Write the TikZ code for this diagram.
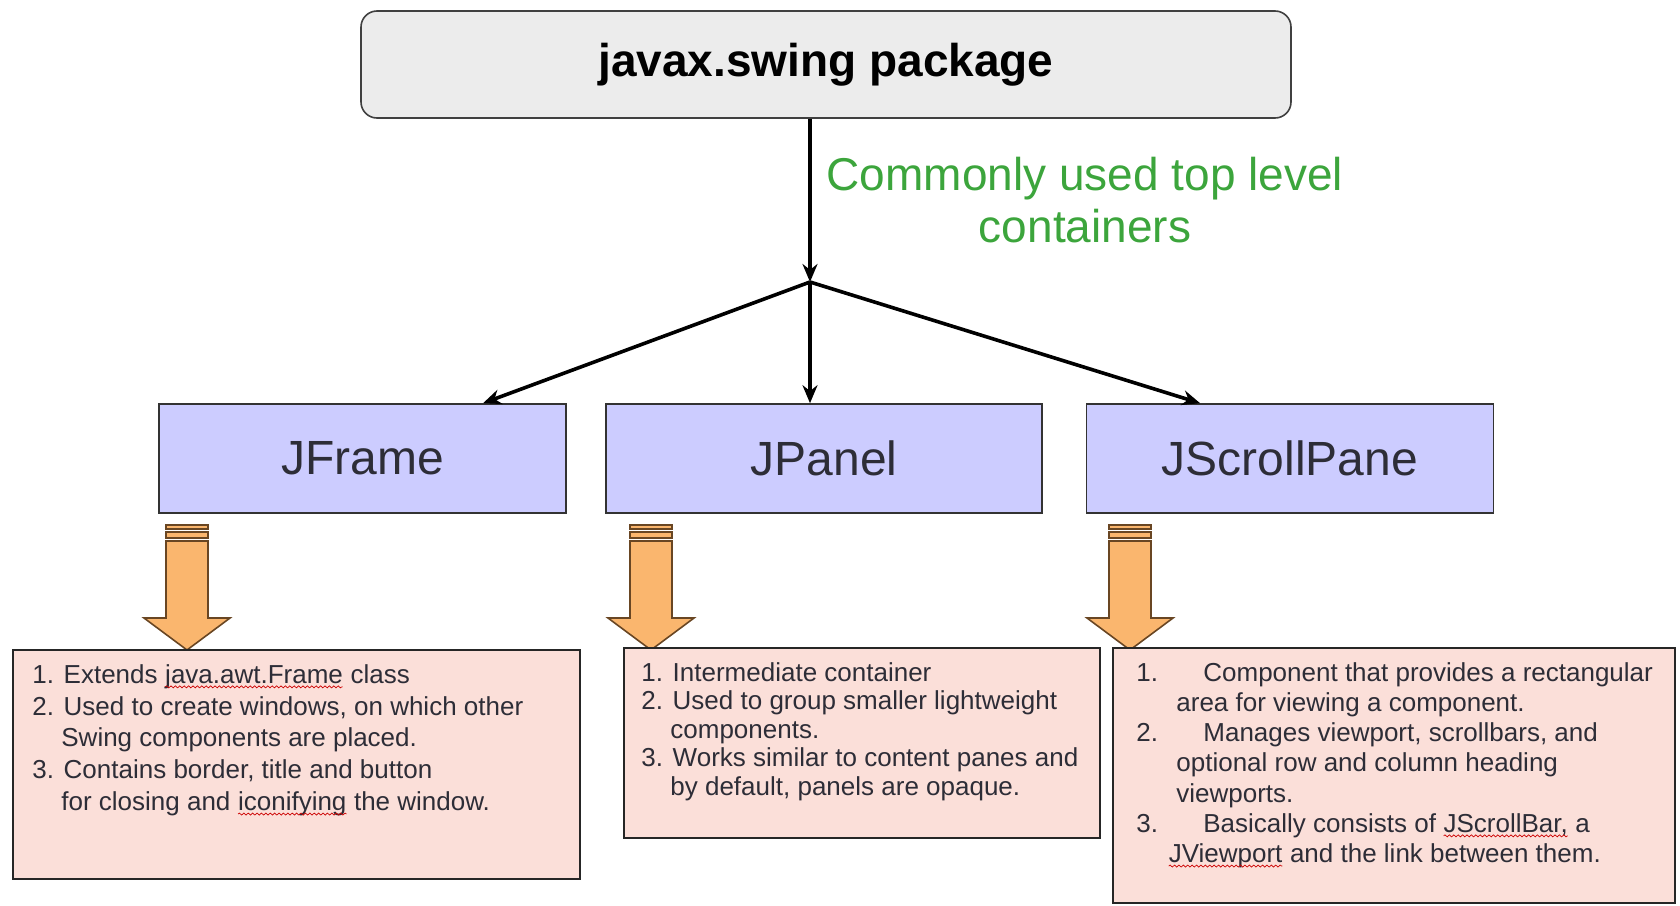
\documentclass[tikz,border=0pt]{standalone}
\usepackage{fontspec}
\setmainfont{Liberation Sans}
\usepackage{xcolor}
\usetikzlibrary{arrows.meta,calc,decorations.pathmorphing}

\definecolor{pkggray}{RGB}{236,236,236}
\definecolor{contblue}{RGB}{204,204,255}
\definecolor{notepink}{RGB}{251,223,217}
\definecolor{pointorange}{RGB}{250,182,110}
\definecolor{labelgreen}{RGB}{60,165,60}
\definecolor{inkgray}{RGB}{45,45,55}

% red wavy spell-check line under a word
\newcommand{\typo}[1]{\tikz[baseline=(tw.base)]{\node[inner sep=0pt,outer sep=0pt] (tw) {#1};
    \draw[red!80!black, line width=0.35pt, decorate, decoration={snake, amplitude=0.5pt, segment length=2.2pt}]
      ([yshift=-1.8pt]tw.base west) -- ([yshift=-1.8pt]tw.base east);}}

\begin{document}
\begin{tikzpicture}[x=0.5pt, y=-0.5pt,
    pkg/.style={draw=black!75, fill=pkggray, rounded corners=8pt, line width=0.8pt,
      minimum width=465pt, minimum height=53.5pt, font=\fontsize{23}{27}\selectfont\bfseries},
    container/.style={draw=black!80, fill=contblue, line width=0.8pt, text=inkgray,
      minimum width=203.5pt, minimum height=54.5pt, font=\fontsize{24}{28}\selectfont},
    note/.style={draw=black!85, fill=notepink, line width=0.8pt},
    notetext/.style={anchor=north west, inner sep=0pt, align=left, text=inkgray},
    link/.style={-{Stealth[length=9pt,width=7.5pt]}, line width=1.8pt},
    pointer/.style={draw=brown!55!black, fill=pointorange, line width=0.8pt}]
  \useasboundingbox (0,0) rectangle (1680,905);

  % package and the three containers
  \node[pkg] (swing) at (826,64.5) {javax.swing package};
  \node[text=labelgreen, align=center, font=\fontsize{23}{26}\selectfont] (toplevel) at (1085,200)
    {Commonly used top level\\containers};
  \coordinate (split) at (810,282);
  \node[container] (frame) at (362.5,458.5) {JFrame};
  \node[container, minimum width=218pt] (panel) at (824,458.5) {JPanel};
  \node[container] (scroll) at (1290,458.5) {JScrollPane};

  \draw[link] (split |- swing.south) -- (split);
  \draw[link] (split) -- ($(frame.north)!0.59!(frame.north east)$);
  \draw[link] (split) -- (split |- panel.north);
  \draw[link] (split) -- ($(scroll.north)!0.44!(scroll.north west)$);

  % striped block arrows
  \foreach \cx in {187,651,1130} {
    \draw[pointer] (\cx-21,525) rectangle (\cx+21,529);
    \draw[pointer] (\cx-21,532) rectangle (\cx+21,538);
    \draw[pointer] (\cx-21,541) -- (\cx+21,541) -- (\cx+21,618) -- (\cx+43,618)
      -- (\cx,650) -- (\cx-43,618) -- (\cx-21,618) -- cycle;
  }

  % descriptions
  \node[note, minimum width=283.5pt, minimum height=114.5pt] (framenote) at (296.5,764.5) {};
  \node[note, minimum width=238pt, minimum height=95pt] (panelnote) at (862,743) {};
  \node[note, minimum width=281pt, minimum height=127.5pt] (scrollnote) at (1394,775.5) {};

  \node[notetext, font=\fontsize{13}{15.9}\selectfont] (frametext) at (32,664)
    {1. Extends \typo{java.awt.Frame} class\\
     2. Used to create windows, on which other\\
     \hspace*{14.5pt}Swing components are placed.\\
     3. Contains border, title and button\\
     \hspace*{14.5pt}for closing and \typo{iconifying} the window.};
  \node[notetext, font=\fontsize{13}{14.25}\selectfont] (paneltext) at (641,662)
    {1. Intermediate container\\
     2. Used to group smaller lightweight\\
     \hspace*{14.5pt}components.\\
     3. Works similar to content panes and\\
     \hspace*{14.5pt}by default, panels are opaque.};
  \node[notetext, font=\fontsize{13}{15.1}\selectfont] (scrolltext) at (1136,662)
    {\makebox[33.5pt][l]{1.}Component that provides a rectangular\\
     \hspace*{20pt}area for viewing a component.\\
     \makebox[33.5pt][l]{2.}Manages viewport, scrollbars, and\\
     \hspace*{20pt}optional row and column heading\\
     \hspace*{20pt}viewports.\\
     \makebox[33.5pt][l]{3.}Basically consists of \typo{JScrollBar,} a\\
     \hspace*{16pt}\typo{JViewport} and the link between them.};
\end{tikzpicture}
\end{document}
